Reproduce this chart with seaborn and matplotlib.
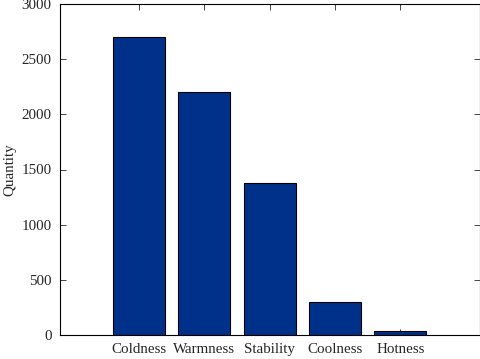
"""
Bar chart of quantity per category (MATLAB-like boxed style)
"""
import pandas as pd
import matplotlib.pyplot as plt
import seaborn as sns

categories = ['Coldness', 'Warmness', 'Stability', 'Coolness', 'Hotness']
quantity = [2700, 2200, 1380, 300, 35]

df = pd.DataFrame({'category': categories, 'quantity': quantity})

sns.set_style("ticks")
plt.rcParams['font.family'] = ['Liberation Serif', 'DejaVu Serif']

fig = plt.figure(figsize=(4.81, 3.59), dpi=100)
ax = fig.add_axes([60 / 481, 24 / 359, 420 / 481, 331 / 359])

sns.barplot(data=df, x='category', y='quantity', color='#00318A',
            saturation=1, width=0.8, edgecolor='black', linewidth=0.8, ax=ax)

ax.set_xlim(-1.21, 5.22)
ax.set_ylim(0, 3000)
ax.set_yticks([0, 500, 1000, 1500, 2000, 2500, 3000])
ax.set_xlabel('')
ax.set_ylabel('Quantity', fontsize=10.8)
ax.yaxis.set_label_coords(-44 / 420, 0.5)

for side in ['top', 'right', 'left', 'bottom']:
    ax.spines[side].set_visible(True)
    ax.spines[side].set_linewidth(0.8)
    ax.spines[side].set_color('black')

ax.tick_params(direction='in', top=True, right=True, length=4, width=0.6,
               labelsize=10.8, pad=6)
ax.grid(False)

plt.savefig('out.png', dpi=100)
